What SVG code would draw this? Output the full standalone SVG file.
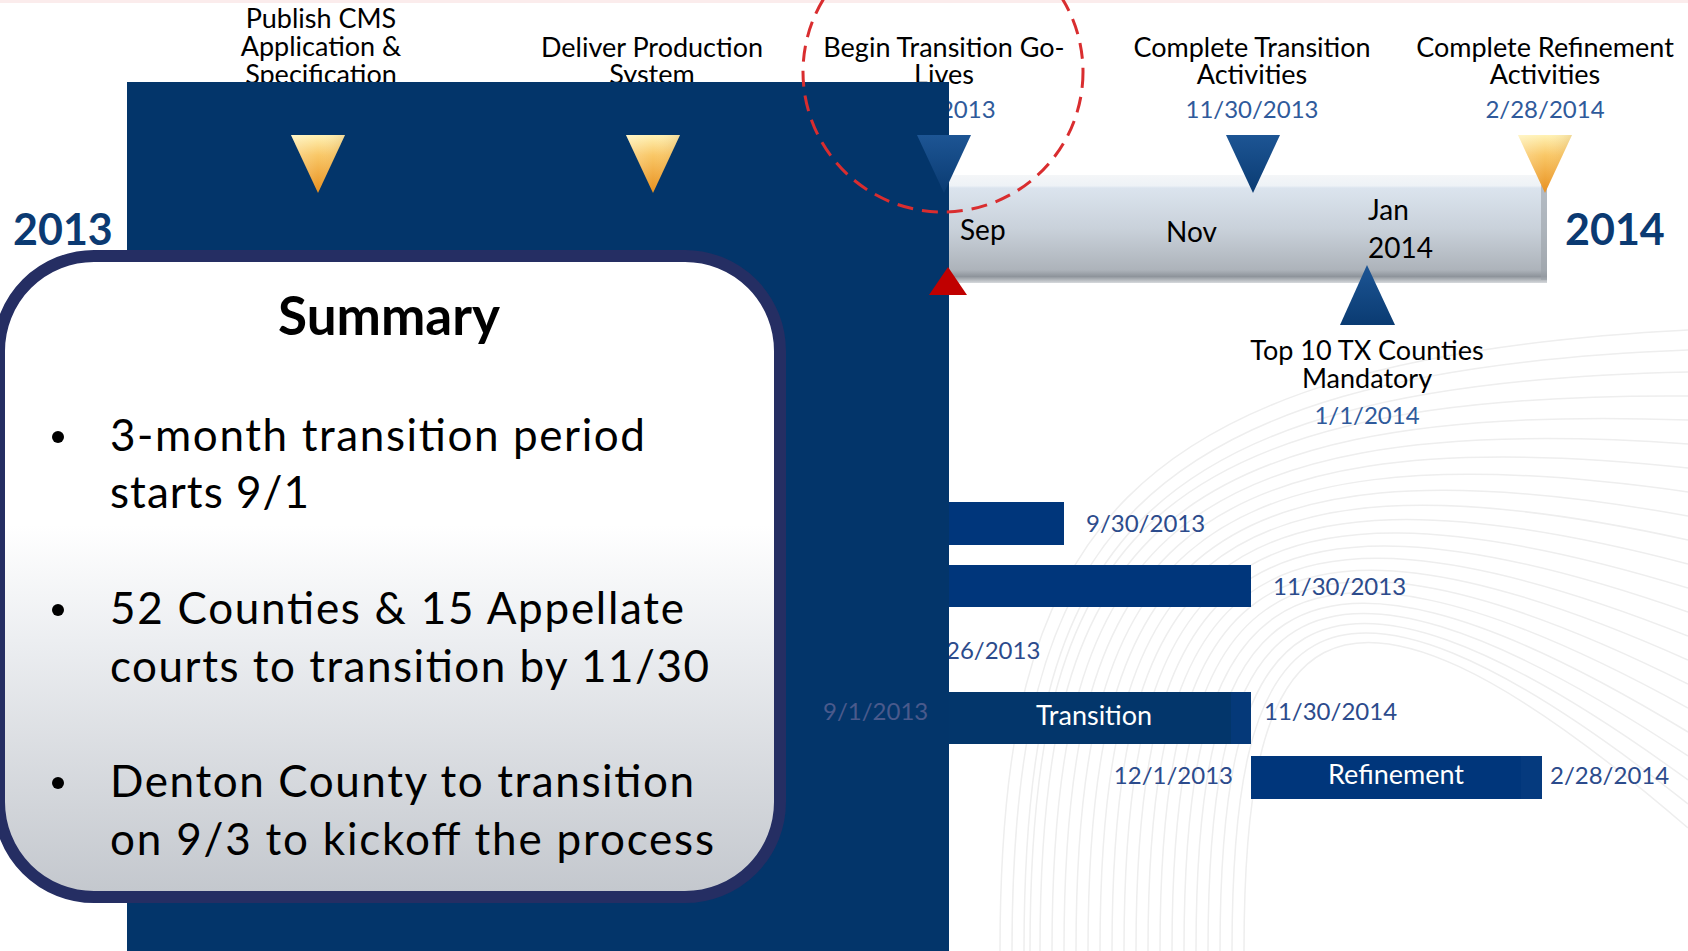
<svg xmlns="http://www.w3.org/2000/svg" width="1688" height="951" viewBox="0 0 1688 951">
<defs>
<style>
.lbl{font-family:Lato,"Liberation Sans",sans-serif;font-size:27px;fill:#000;text-anchor:middle}
.dtop{font-family:Lato,"Liberation Sans",sans-serif;font-size:24px;fill:#2f5a9b;text-anchor:middle}
.dg{font-family:Lato,"Liberation Sans",sans-serif;font-size:24px;fill:#2c4b8c}
.mon{font-family:Lato,"Liberation Sans",sans-serif;font-size:28px;fill:#000}
.yr{font-family:Lato,"Liberation Sans",sans-serif;font-size:43px;font-weight:bold;fill:#0b3a72}
.bartxt{font-family:Lato,"Liberation Sans",sans-serif;font-size:27px;fill:#fff;text-anchor:middle}
.sum{font-family:Lato,"Liberation Sans",sans-serif;font-size:44px;fill:#000}
.swirl{fill:none;stroke:#eeeeee;stroke-width:1.5}
.bar{fill:#00367b}
</style>
<linearGradient id="gold" x1="0" y1="0" x2="0" y2="1">
<stop offset="0" stop-color="#fff2b5"/>
<stop offset="0.35" stop-color="#f9c766"/>
<stop offset="1" stop-color="#e8901f"/>
</linearGradient>
<linearGradient id="goldL" x1="0" y1="0" x2="1" y2="0">
<stop offset="0" stop-color="#ffffff" stop-opacity="0.25"/>
<stop offset="0.5" stop-color="#ffffff" stop-opacity="0"/>
<stop offset="1" stop-color="#a05000" stop-opacity="0.15"/>
</linearGradient>
<linearGradient id="blu" x1="0" y1="0" x2="0" y2="1">
<stop offset="0" stop-color="#1d5594"/>
<stop offset="1" stop-color="#0a3b72"/>
</linearGradient>
<linearGradient id="tbar" x1="0" y1="0" x2="0" y2="1">
<stop offset="0" stop-color="#f4f6f8"/>
<stop offset="0.1" stop-color="#eef2f6"/>
<stop offset="0.12" stop-color="#dbe4ee"/>
<stop offset="0.5" stop-color="#c9d1da"/>
<stop offset="0.88" stop-color="#adb3ba"/>
<stop offset="0.94" stop-color="#8e949b"/>
<stop offset="1" stop-color="#d6d9dc"/>
</linearGradient>
<linearGradient id="box" x1="0" y1="0" x2="0" y2="1">
<stop offset="0" stop-color="#ffffff"/>
<stop offset="0.42" stop-color="#ffffff"/>
<stop offset="0.6" stop-color="#eceef1"/>
<stop offset="1" stop-color="#c3c7cd"/>
</linearGradient>
<path id="tdown" d="M0 0 H54 L27 58 Z"/>
</defs>

<rect x="0" y="0" width="1688" height="951" fill="#ffffff"/>
<rect x="0" y="0" width="1688" height="3" fill="#fbecec"/>

<g id="background-swirl">
<path class="swirl" d="M1040 951 C1040 560 1140 400 1688 420"/>
<path class="swirl" d="M1052 951 C1052 565 1150 406 1688 444"/>
<path class="swirl" d="M1064 951 C1064 570 1160 412 1688 468"/>
<path class="swirl" d="M1076 951 C1076 575 1170 418 1688 492"/>
<path class="swirl" d="M1088 951 C1088 580 1180 424 1688 516"/>
<path class="swirl" d="M1100 951 C1100 585 1190 430 1688 540"/>
<path class="swirl" d="M1112 951 C1112 590 1200 436 1688 564"/>
<path class="swirl" d="M1124 951 C1124 595 1210 442 1688 588"/>
<path class="swirl" d="M1136 951 C1136 600 1220 448 1688 612"/>
<path class="swirl" d="M1148 951 C1148 605 1230 454 1688 636"/>
<path class="swirl" d="M1160 951 C1160 610 1240 460 1688 660"/>
<path class="swirl" d="M1172 951 C1172 615 1250 466 1688 684"/>
<path class="swirl" d="M1184 951 C1184 620 1260 472 1688 708"/>
<path class="swirl" d="M1196 951 C1196 625 1270 478 1688 732"/>
<path class="swirl" d="M1208 951 C1208 630 1280 484 1688 756"/>
<path class="swirl" d="M1220 951 C1220 635 1290 490 1688 780"/>
<path class="swirl" d="M1232 951 C1232 640 1300 496 1688 804"/>
<path class="swirl" d="M1244 951 C1244 645 1310 502 1688 828"/>
<path class="swirl" d="M1000 951 C1000 540 1110 360 1688 330"/>
<path class="swirl" d="M1012 951 C1012 548 1120 372 1688 350"/>
<path class="swirl" d="M1024 951 C1024 552 1125 384 1688 372"/>
<path class="swirl" d="M1030 951 C1030 556 1130 392 1688 396"/>
</g>

<g id="label-publish">
<text class="lbl" x="321" y="28">Publish CMS</text>
<text class="lbl" x="321" y="56">Application &amp;</text>
<text class="lbl" x="321" y="84">Specification</text>
</g>
<g id="label-deliver">
<text class="lbl" x="652" y="57">Deliver Production</text>
<text class="lbl" x="652" y="84">System</text>
</g>
<g id="label-begin">
<text class="lbl" x="944" y="57">Begin Transition Go-</text>
<text class="lbl" x="944" y="84">Lives</text>
<text class="dtop" x="943" y="118">9/1/2013</text>
</g>
<g id="label-complete-transition">
<text class="lbl" x="1252" y="57">Complete Transition</text>
<text class="lbl" x="1252" y="84">Activities</text>
<text class="dtop" x="1252" y="118">11/30/2013</text>
</g>
<g id="label-complete-refinement">
<text class="lbl" x="1545" y="57">Complete Refinement</text>
<text class="lbl" x="1545" y="84">Activities</text>
<text class="dtop" x="1545" y="118">2/28/2014</text>
</g>

<g id="timeline-bar">
<rect x="930" y="175" width="617" height="108" fill="url(#tbar)"/>
<rect x="1541" y="185" width="6" height="95" fill="#9aa0a7" opacity="0.6"/>
<text class="mon" x="960" y="240">Sep</text>
<text class="mon" x="1166" y="242">Nov</text>
<text class="mon" x="1368" y="220">Jan</text>
<text class="mon" x="1368" y="258">2014</text>
</g>

<g id="label-top10">
<text class="lbl" x="1367" y="360">Top 10 TX Counties</text>
<text class="lbl" x="1367" y="388">Mandatory</text>
<text class="dtop" x="1367" y="424">1/1/2014</text>
</g>

<g id="gantt">
<rect class="bar" x="900" y="502" width="164" height="43"/>
<text class="dg" x="1086" y="532">9/30/2013</text>
<rect class="bar" x="900" y="565" width="351" height="42"/>
<text class="dg" x="1273" y="595">11/30/2013</text>
<text class="dg" x="946" y="659">26/2013</text>
<g id="bar-transition">
<rect x="900" y="692" width="351" height="52" fill="#03366b"/>
<rect x="1231" y="692" width="20" height="52" fill="#053979"/>
<text class="bartxt" x="1094" y="725">Transition</text>
</g>
<text class="dg" x="1264" y="720">11/30/2014</text>
<text class="dg" x="1233" y="784" text-anchor="end">12/1/2013</text>
<g id="bar-refinement">
<rect class="bar" x="1251" y="756" width="291" height="43"/>
<rect x="1521" y="756" width="21" height="43" fill="#053a7e"/>
<text class="bartxt" x="1396" y="784">Refinement</text>
</g>
<text class="dg" x="1550" y="784">2/28/2014</text>
</g>

<rect id="navy-panel" x="127" y="82" width="822" height="869" fill="#03356a"/>
<text x="823" y="720" style="font-family:Lato,'Liberation Sans',sans-serif;font-size:24px;fill:#4a5a8c">9/1/2013</text>

<g id="milestones">
<g id="m-publish" transform="translate(291,135)"><use href="#tdown" fill="url(#gold)"/><use href="#tdown" fill="url(#goldL)"/></g>
<g id="m-deliver" transform="translate(626,135)"><use href="#tdown" fill="url(#gold)"/><use href="#tdown" fill="url(#goldL)"/></g>
<g id="m-begin" transform="translate(917,135)"><use href="#tdown" fill="url(#blu)"/></g>
<g id="m-complete-transition" transform="translate(1226,135)"><use href="#tdown" fill="url(#blu)"/></g>
<g id="m-complete-refinement" transform="translate(1518,135)"><use href="#tdown" fill="url(#gold)"/><use href="#tdown" fill="url(#goldL)"/></g>
<path id="m-top10" d="M1340 325 H1395 L1367 265 Z" fill="url(#blu)"/>
<path id="m-today" d="M929 295 H967 L948 267 Z" fill="#c00000"/>
</g>

<circle id="highlight" cx="943" cy="72" r="140" fill="none" stroke="#d92d2f" stroke-width="3" stroke-dasharray="16 9"/>

<text class="yr" x="13" y="245">2013</text>
<text class="yr" x="1565" y="245">2014</text>

<g id="summary">
<rect x="-1" y="256" width="781" height="641" rx="95" ry="95" fill="url(#box)" stroke="#252e63" stroke-width="12"/>
<text x="389" y="335" text-anchor="middle" style="font-family:Lato,'Liberation Sans',sans-serif;font-size:53px;font-weight:bold;fill:#000">Summary</text>
<circle cx="58" cy="437" r="6" fill="#000"/>
<text class="sum" x="110" y="451" textLength="535">3-month transition period</text>
<text class="sum" x="110" y="508" textLength="199">starts 9/1</text>
<circle cx="58" cy="610" r="6" fill="#000"/>
<text class="sum" x="110" y="624" textLength="574">52 Counties &amp; 15 Appellate</text>
<text class="sum" x="110" y="682" textLength="599">courts to transition by 11/30</text>
<circle cx="58" cy="783" r="6" fill="#000"/>
<text class="sum" x="110" y="797" textLength="584">Denton County to transition</text>
<text class="sum" x="110" y="855" textLength="604">on 9/3 to kickoff the process</text>
</g>
</svg>
